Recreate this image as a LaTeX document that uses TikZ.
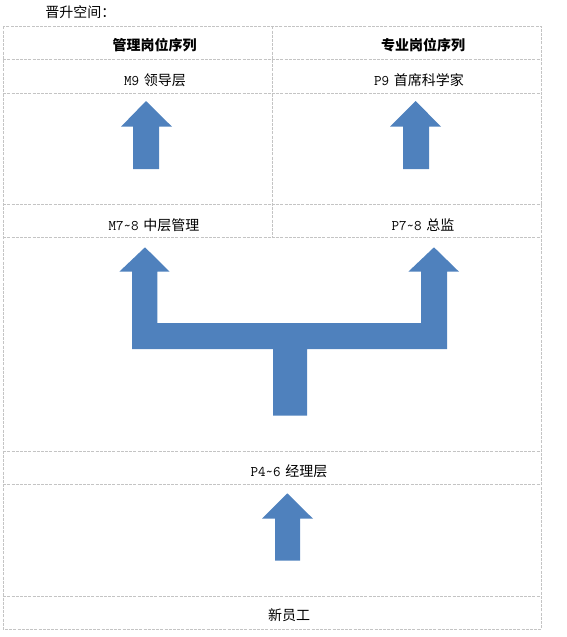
\documentclass[tikz,border=0pt]{standalone}
\usepackage{fontspec}
\newfontfamily\cjk{Noto Sans CJK SC}
\newcommand{\la}[1]{{\ttfamily\fontsize{11pt}{12pt}\selectfont #1}}
\newcommand{\tl}{\symbol{126}}
\definecolor{arrowblue}{HTML}{4F81BD}
\definecolor{gridgray}{HTML}{C4C4C4}
\begin{document}
\begin{tikzpicture}[x=0.75pt,y=-0.75pt,
  grid/.style={draw=gridgray,line width=0.75pt,dash pattern=on 2.25pt off 0.9pt},
  lbl/.style={inner sep=0pt,font=\cjk\fontsize{10.5pt}{12pt}\selectfont},
  hdr/.style={lbl,font=\cjk\bfseries\fontsize{10.5pt}{12pt}\selectfont},
  blk/.style={fill=arrowblue,draw=none}]
\useasboundingbox (0,0) rectangle (567,637);
% table grid
\draw[grid] (3.3,26.3) rectangle (541.5,629.3);
\foreach \yy in {59.7,93.3,204.3,237.3,451.3,484.3,596}
  \draw[grid] (3.3,\yy) -- (541.5,\yy);
\draw[grid] (272.3,26.3) -- (272.3,237.3);
% texts
\node[lbl,anchor=west] (title) at (45,12) {晋升空间：};
\node[hdr] (h1) at (154.6,45) {管理岗位序列};
\node[hdr] (h2) at (423,45) {专业岗位序列};
\node[lbl] (m9) at (155,80) {\la{M9}\hspace{3.5pt}领导层};
\node[lbl] (p9) at (419,80) {\la{P9}\hspace{3.5pt}首席科学家};
\node[lbl] (m78) at (154,225) {\la{M7\tl8}\hspace{3.5pt}中层管理};
\node[lbl] (p78) at (423,225) {\la{P7\tl8}\hspace{3.5pt}总监};
\node[lbl] (p46) at (289,471) {\la{P4\tl6}\hspace{3.5pt}经理层};
\node[lbl] (new) at (289,615) {新员工};
% arrows
\fill[blk] (146,101) -- (172,126.7) -- (159,126.7) -- (159,169) -- (133,169) -- (133,126.7) -- (121,126.7) -- cycle;
\fill[blk] (415.7,101) -- (441,126.7) -- (429,126.7) -- (429,169) -- (403,169) -- (403,126.7) -- (390,126.7) -- cycle;
\fill[blk] (145,247.3) -- (169.7,271.7) -- (157.3,271.7) -- (157.3,323) -- (421,323) -- (421,271.7)
  -- (408.3,271.7) -- (434,247.3) -- (459,271.7) -- (447,271.7) -- (447,349) -- (307,349)
  -- (307,415.7) -- (273,415.7) -- (273,349) -- (132,349) -- (132,271.7) -- (119.3,271.7) -- cycle;
\fill[blk] (287.3,493.3) -- (313,518.7) -- (300,518.7) -- (300,560.7) -- (275,560.7) -- (275,518.7) -- (262,518.7) -- cycle;
\end{tikzpicture}
\end{document}
